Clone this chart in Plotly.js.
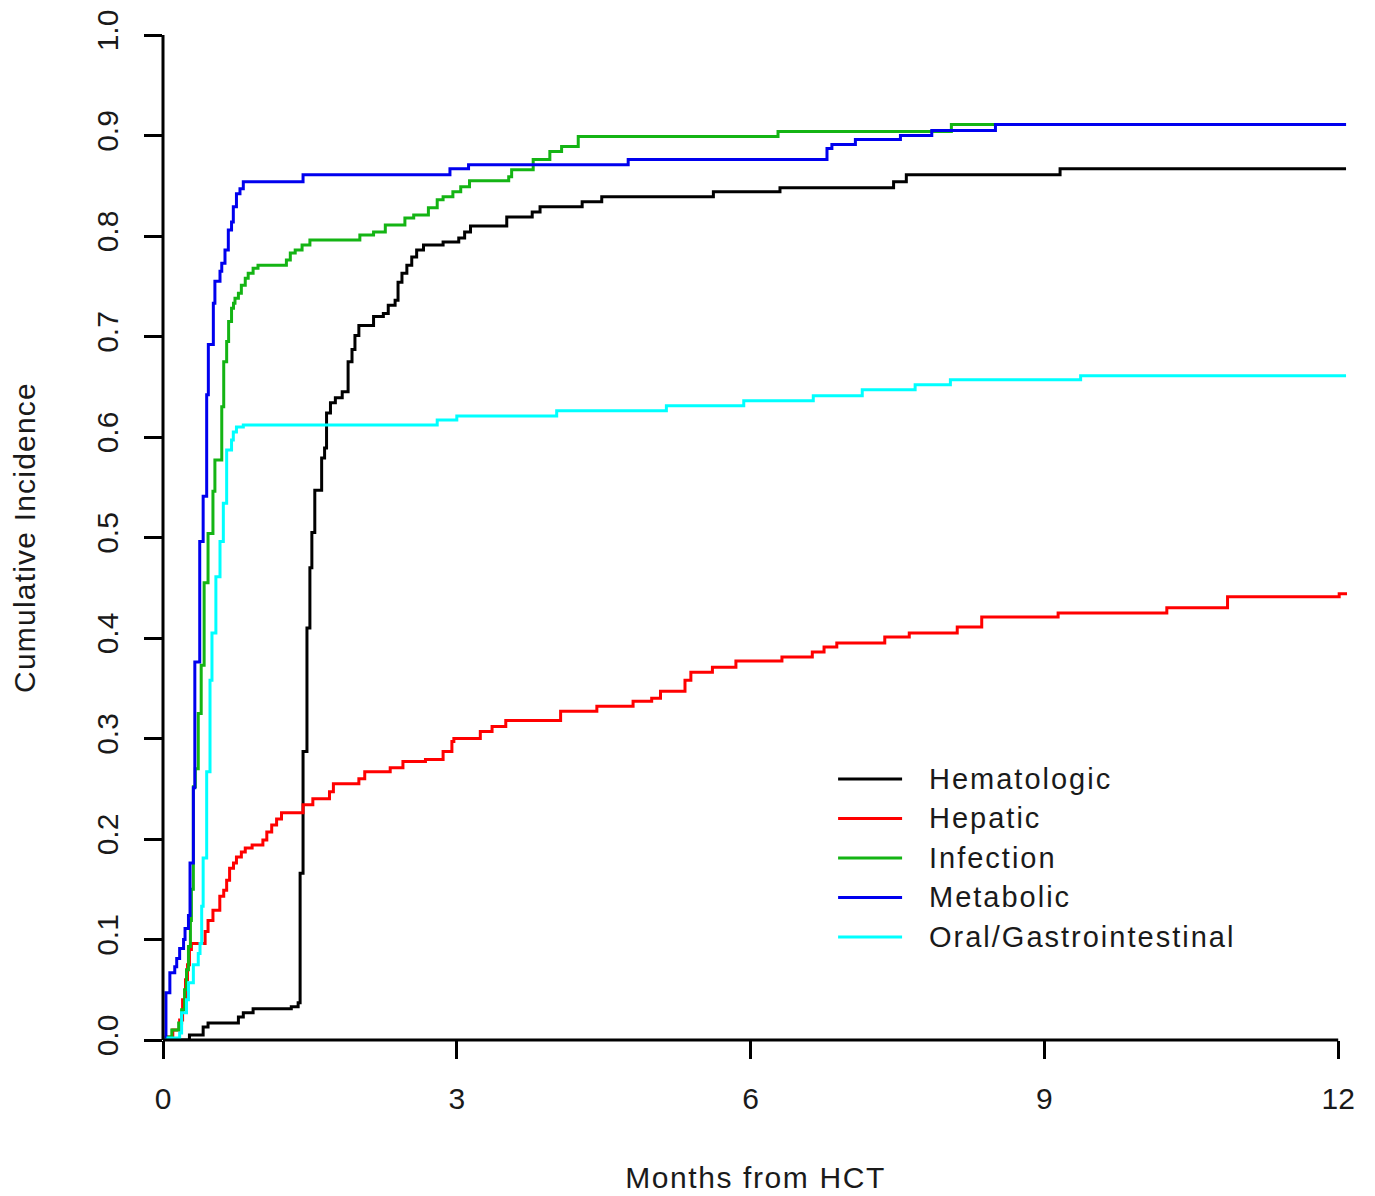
<!DOCTYPE html>
<html>
<head>
<meta charset="utf-8">
<script src="https://cdn.plot.ly/plotly-3.0.1.min.js"></script>
<style>
html,body{margin:0;padding:0;background:#ffffff;}
#chart .annotation-text{letter-spacing:2px;}
#chart .xtitle{letter-spacing:1.6px;}
#chart .ytitle{letter-spacing:1.2px;}
</style>
</head>
<body>
<div id="chart" style="width:1375px;height:1196px;"></div>
<script>
// ---- data (months from HCT, cumulative incidence) ----
const seriesNames = ["Hematologic", "Hepatic", "Infection", "Metabolic", "Oral/Gastrointestinal"];
const seriesColors = ["#000000", "#ff0000", "#14b414", "#0000ee", "#00ffff"];

const hematologicT = [0, 0.27, 0.41, 0.46, 0.77, 0.82, 0.92, 1.31, 1.38, 1.40, 1.43, 1.47, 1.50, 1.52, 1.55, 1.62, 1.65, 1.67, 1.71, 1.76, 1.83, 1.89, 1.93, 1.96, 2.00, 2.15, 2.25, 2.30, 2.37, 2.40, 2.44, 2.49, 2.54, 2.59, 2.66, 2.86, 3.02, 3.08, 3.14, 3.51, 3.77, 3.85, 4.28, 4.48, 5.62, 6.30, 7.46, 7.59, 9.16, 12.08];
const hematologicV = [0, 0.005, 0.013, 0.017, 0.023, 0.027, 0.031, 0.033, 0.037, 0.166, 0.287, 0.41, 0.47, 0.505, 0.547, 0.579, 0.589, 0.624, 0.634, 0.639, 0.645, 0.675, 0.687, 0.701, 0.711, 0.72, 0.723, 0.731, 0.736, 0.754, 0.763, 0.771, 0.779, 0.786, 0.791, 0.794, 0.798, 0.804, 0.81, 0.819, 0.824, 0.829, 0.834, 0.839, 0.844, 0.848, 0.854, 0.861, 0.867, 0.867];

const hepaticT = [0, 0.05, 0.10, 0.17, 0.20, 0.23, 0.25, 0.27, 0.29, 0.43, 0.46, 0.51, 0.58, 0.62, 0.65, 0.68, 0.72, 0.75, 0.80, 0.84, 0.91, 1.02, 1.06, 1.11, 1.16, 1.21, 1.43, 1.53, 1.70, 1.74, 2.00, 2.06, 2.32, 2.45, 2.68, 2.86, 2.95, 2.97, 3.24, 3.36, 3.50, 4.06, 4.43, 4.80, 4.99, 5.08, 5.33, 5.39, 5.61, 5.85, 6.32, 6.63, 6.75, 6.88, 7.37, 7.62, 8.11, 8.36, 9.14, 10.25, 10.87, 12.01, 12.09];
const hepaticV = [0, 0.003, 0.01, 0.02, 0.04, 0.06, 0.075, 0.09, 0.096, 0.108, 0.119, 0.129, 0.143, 0.149, 0.159, 0.171, 0.176, 0.182, 0.187, 0.191, 0.194, 0.199, 0.207, 0.214, 0.22, 0.226, 0.234, 0.24, 0.247, 0.255, 0.26, 0.267, 0.271, 0.277, 0.279, 0.287, 0.297, 0.30, 0.307, 0.312, 0.318, 0.327, 0.332, 0.337, 0.34, 0.347, 0.358, 0.366, 0.371, 0.377, 0.381, 0.386, 0.391, 0.395, 0.401, 0.405, 0.411, 0.421, 0.425, 0.43, 0.441, 0.444, 0.444];

const infectionT = [0, 0.03, 0.09, 0.16, 0.19, 0.22, 0.24, 0.26, 0.28, 0.29, 0.31, 0.33, 0.36, 0.39, 0.42, 0.46, 0.51, 0.53, 0.60, 0.62, 0.65, 0.67, 0.70, 0.72, 0.735, 0.77, 0.80, 0.84, 0.87, 0.92, 0.97, 1.26, 1.30, 1.35, 1.42, 1.50, 2.01, 2.15, 2.27, 2.47, 2.56, 2.71, 2.80, 2.86, 2.96, 3.04, 3.13, 3.53, 3.56, 3.78, 3.95, 4.07, 4.24, 6.28, 8.05, 12.08];
const infectionV = [0, 0.003, 0.01, 0.017, 0.03, 0.05, 0.07, 0.093, 0.119, 0.15, 0.252, 0.27, 0.325, 0.373, 0.455, 0.504, 0.546, 0.577, 0.63, 0.675, 0.695, 0.715, 0.728, 0.733, 0.738, 0.743, 0.751, 0.758, 0.763, 0.768, 0.771, 0.776, 0.783, 0.786, 0.791, 0.796, 0.801, 0.804, 0.811, 0.818, 0.821, 0.828, 0.836, 0.839, 0.844, 0.849, 0.855, 0.859, 0.866, 0.876, 0.884, 0.889, 0.899, 0.904, 0.911, 0.911];

const metabolicT = [0, 0.03, 0.07, 0.12, 0.14, 0.17, 0.21, 0.225, 0.26, 0.276, 0.31, 0.325, 0.375, 0.41, 0.446, 0.463, 0.514, 0.53, 0.582, 0.60, 0.633, 0.667, 0.70, 0.718, 0.75, 0.786, 0.82, 1.43, 2.93, 3.12, 4.75, 6.78, 6.83, 7.07, 7.53, 7.85, 8.50, 12.08];
const metabolicV = [0, 0.047, 0.067, 0.073, 0.081, 0.091, 0.10, 0.111, 0.124, 0.176, 0.251, 0.376, 0.496, 0.541, 0.642, 0.692, 0.733, 0.755, 0.765, 0.773, 0.786, 0.806, 0.814, 0.829, 0.842, 0.847, 0.854, 0.861, 0.867, 0.871, 0.876, 0.887, 0.891, 0.896, 0.90, 0.905, 0.911, 0.911];

const oralT = [0, 0.05, 0.17, 0.19, 0.24, 0.26, 0.31, 0.36, 0.378, 0.395, 0.41, 0.446, 0.48, 0.50, 0.54, 0.582, 0.616, 0.65, 0.70, 0.718, 0.75, 0.82, 2.80, 3.00, 4.02, 5.14, 5.93, 6.64, 7.14, 7.68, 8.04, 9.37, 12.08];
const oralV = [0, 0.002, 0.007, 0.027, 0.04, 0.057, 0.075, 0.086, 0.096, 0.133, 0.181, 0.267, 0.358, 0.405, 0.461, 0.496, 0.534, 0.587, 0.597, 0.605, 0.61, 0.612, 0.617, 0.621, 0.626, 0.631, 0.636, 0.641, 0.647, 0.652, 0.657, 0.661, 0.661];

const xTicks = [0, 3, 6, 9, 12];
const yTicks = [0, 0.1, 0.2, 0.3, 0.4, 0.5, 0.6, 0.7, 0.8, 0.9, 1.0];
const yTickText = ["0.0", "0.1", "0.2", "0.3", "0.4", "0.5", "0.6", "0.7", "0.8", "0.9", "1.0"];
const xTitle = "Months from HCT";
const yTitle = "Cumulative Incidence";

// ---- build ----
const allT = [hematologicT, hepaticT, infectionT, metabolicT, oralT];
const allV = [hematologicV, hepaticV, infectionV, metabolicV, oralV];
const xMax = 12.1;
const yMax = yTicks[yTicks.length - 1];

const traces = seriesNames.map((name, i) => ({
  type: "scatter",
  mode: "lines",
  name: name,
  x: allT[i],
  y: allV[i],
  line: {shape: "hv", color: seriesColors[i], width: 3},
  showlegend: false,
  hoverinfo: "x+y+name"
}));

const FONT = "Liberation Sans, Arial, sans-serif";
const textColor = "#1a1a1a";

// custom legend (R style, long line keys)
const shapes = [];
const annotations = [];
const legX0 = 0.5697, legX1 = 0.6237, legTextX = 0.6449;
const legY0 = 0.2597, legStep = 0.0393;
seriesNames.forEach((name, i) => {
  const yy = legY0 - i * legStep;
  shapes.push({type: "line", xref: "paper", yref: "paper", x0: legX0, x1: legX1, y0: yy, y1: yy,
    line: {color: seriesColors[i], width: 3}});
  annotations.push({xref: "paper", yref: "paper", x: legTextX, y: yy, xanchor: "left", yanchor: "middle",
    align: "left", text: name, showarrow: false, font: {family: FONT, size: 29, color: textColor}});
});
// axis lines from first to last tick (R axis style)
shapes.push({type: "line", xref: "paper", yref: "paper", x0: xTicks[0] / xMax, x1: xTicks[xTicks.length - 1] / xMax,
  y0: 0, y1: 0, line: {color: "#000000", width: 3}});
shapes.push({type: "line", xref: "paper", yref: "paper", x0: 0, x1: 0,
  y0: 0, y1: yMax / 1.0, line: {color: "#000000", width: 3}});

const layout = {
  width: 1375, height: 1196,
  paper_bgcolor: "#ffffff", plot_bgcolor: "#ffffff",
  margin: {l: 163, r: 27, t: 35, b: 156},
  font: {family: FONT, color: textColor},
  showlegend: false,
  xaxis: {
    range: [0, xMax], tickvals: xTicks, ticktext: xTicks.map(String),
    ticks: "outside", ticklen: 18, tickwidth: 3, tickcolor: "#000000",
    ticklabelstandoff: 14,
    showgrid: false, zeroline: false, showline: false,
    tickfont: {family: FONT, size: 30, color: textColor},
    title: {text: xTitle, font: {family: FONT, size: 30, color: textColor}, standoff: 52},
    automargin: false, fixedrange: true
  },
  yaxis: {
    range: [0, 1.0], tickvals: yTicks, ticktext: yTickText, tickangle: -90,
    ticks: "outside", ticklen: 18, tickwidth: 3, tickcolor: "#000000",
    ticklabelstandoff: 14,
    showgrid: false, zeroline: false, showline: false,
    tickfont: {family: FONT, size: 30, color: textColor},
    title: {text: yTitle, font: {family: FONT, size: 30, color: textColor}, standoff: 46},
    automargin: false, fixedrange: true
  },
  shapes: shapes,
  annotations: annotations
};

Plotly.newPlot("chart", traces, layout, {displayModeBar: false, staticPlot: true});
</script>
</body>
</html>
